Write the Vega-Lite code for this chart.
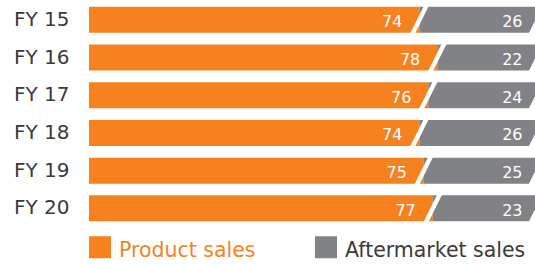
{
  "$schema": "https://vega.github.io/schema/vega-lite/v6.json",
  "width": 446.5,
  "height": 226.2,
  "autosize": "none",
  "padding": {"left": 89, "top": 1, "right": 0, "bottom": 38},
  "background": "white",
  "config": {
    "view": {"stroke": null},
    "font": "DejaVu Sans"
  },
  "data": {
    "values": [
      {"year": "FY 15", "type": "Product sales", "value": 74},
      {"year": "FY 15", "type": "Aftermarket sales", "value": 26},
      {"year": "FY 16", "type": "Product sales", "value": 78},
      {"year": "FY 16", "type": "Aftermarket sales", "value": 22},
      {"year": "FY 17", "type": "Product sales", "value": 76},
      {"year": "FY 17", "type": "Aftermarket sales", "value": 24},
      {"year": "FY 18", "type": "Product sales", "value": 74},
      {"year": "FY 18", "type": "Aftermarket sales", "value": 26},
      {"year": "FY 19", "type": "Product sales", "value": 75},
      {"year": "FY 19", "type": "Aftermarket sales", "value": 25},
      {"year": "FY 20", "type": "Product sales", "value": 77},
      {"year": "FY 20", "type": "Aftermarket sales", "value": 23}
    ]
  },
  "transform": [
    {"stack": "value", "groupby": ["year"], "sort": [{"field": "type", "order": "descending"}], "as": ["v0", "v1"]}
  ],
  "encoding": {
    "y": {
      "field": "year", "type": "nominal", "sort": null,
      "scale": {"paddingInner": 0.31, "paddingOuter": 0.155},
      "axis": {"title": null, "domain": false, "ticks": false, "labelPadding": 20, "labelFontSize": 20, "labelColor": "#3a3a3a", "labelFont": "DejaVu Sans", "labelBaseline": "middle"}
    }
  },
  "layer": [
    {
      "mark": {"type": "bar"},
      "encoding": {
        "x": {"field": "v0", "type": "quantitative", "scale": {"domain": [0, 100], "nice": false, "zero": true}, "axis": null},
        "x2": {"field": "v1"},
        "color": {
          "field": "type", "type": "nominal",
          "scale": {"domain": ["Product sales", "Aftermarket sales"], "range": ["#f5821f", "#808285"]},
          "legend": {
            "title": null, "orient": "none", "legendX": 0, "legendY": 235,
            "direction": "horizontal", "columns": 2, "padding": 0,
            "symbolType": "square", "symbolSize": 484, "symbolStrokeWidth": 0, "symbolOpacity": 1,
            "labelFontSize": 20.5, "labelFont": "DejaVu Sans", "labelOffset": 8, "labelLimit": 300,
            "columnPadding": 59, "labelBaseline": "middle",
            "encode": {"labels": {"update": {"dy": {"value": 4}, "fill": {"signal": "datum.value == 'Product sales' ? '#f5821f' : '#3a3a3a'"}}}}
          }
        }
      }
    },
    {
      "transform": [{"filter": "datum.type == 'Product sales'"}],
      "mark": {"type": "point", "filled": true, "opacity": 1, "color": "white", "strokeWidth": 0, "size": 676, "shape": "M 0.41 -1.2 L 0.79 -1.2 L -0.41 1.2 L -0.79 1.2 Z"},
      "encoding": {
        "x": {"field": "v1", "type": "quantitative"}
      }
    },
    {
      "transform": [{"filter": "datum.type == 'Aftermarket sales'"}],
      "mark": {"type": "point", "filled": true, "opacity": 1, "color": "white", "strokeWidth": 0, "size": 676, "shape": "M 0.6 -1.2 L 3 -1.2 L 3 1.2 L -0.6 1.2 Z"},
      "encoding": {
        "x": {"field": "v1", "type": "quantitative"}
      }
    },
    {
      "transform": [{"filter": "datum.type == 'Product sales'"}],
      "mark": {"type": "text", "align": "right", "baseline": "alphabetic", "dx": -17, "dy": 7.5, "fontSize": 16, "color": "white", "font": "DejaVu Sans"},
      "encoding": {
        "x": {"field": "v1", "type": "quantitative"},
        "text": {"field": "value", "type": "quantitative"}
      }
    },
    {
      "transform": [{"filter": "datum.type == 'Aftermarket sales'"}],
      "mark": {"type": "text", "align": "right", "baseline": "alphabetic", "dx": -13, "dy": 7.5, "fontSize": 16, "color": "white", "font": "DejaVu Sans"},
      "encoding": {
        "x": {"field": "v1", "type": "quantitative"},
        "text": {"field": "value", "type": "quantitative"}
      }
    }
  ]
}
